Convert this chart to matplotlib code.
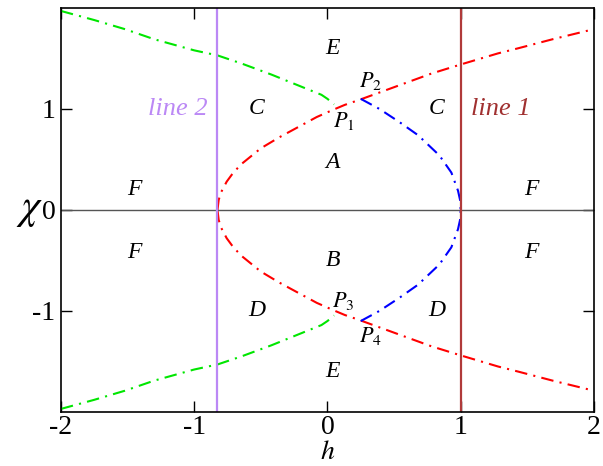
import matplotlib
matplotlib.use("Agg")
import matplotlib.pyplot as plt

# values (upper branches; lower ones are mirror images)
red_h = [-0.825, -0.816, -0.796, -0.756, -0.717, -0.677, -0.64, -0.5, -0.36, -0.22,
         -0.08, 0.04, 0.13, 0.24, 0.51, 0.78, 1.0, 1.28, 1.43, 1.69, 2.0]
red_chi = [0.0, 0.1, 0.18, 0.28, 0.35, 0.41, 0.46, 0.61, 0.72, 0.82,
           0.92, 0.99, 1.04, 1.09, 1.22, 1.35, 1.44, 1.55, 1.60, 1.69, 1.79]

green_h = [-2.0, -1.75, -1.52, -1.3, -1.0, -0.825, -0.645, -0.42, -0.195, -0.045, 0.0, 0.05]
green_chi = [1.97, 1.88, 1.79, 1.69, 1.58, 1.53, 1.45, 1.34, 1.22, 1.14, 1.10, 1.045]

blue_h = [0.25, 0.39, 0.54, 0.68, 0.84, 0.93, 0.98, 0.995, 1.0]
blue_chi = [1.10, 1.0, 0.87, 0.74, 0.54, 0.37, 0.19, 0.1, 0.0]

line1_h = 1.0
line2_h = -0.825

region_labels = ["E", "E", "C", "C", "A", "B", "F", "F", "F", "F", "D", "D"]
region_h = [0.04, 0.04, -0.53, 0.82, 0.04, 0.04, -1.45, -1.45, 1.53, 1.53, -0.53, 0.82]
region_chi = [1.6, -1.6, 1.0, 1.0, 0.47, -0.5, 0.2, -0.42, 0.2, -0.42, -1.0, -1.0]

point_labels = ["$P_{\\mathit{1}}$", "$P_{\\mathit{2}}$", "$P_{\\mathit{3}}$", "$P_{\\mathit{4}}$"]
point_h = [0.12, 0.32, 0.12, 0.32]
point_chi = [0.88, 1.28, -0.9, -1.25]

xticks = [-2, -1, 0, 1, 2]
yticks = [-1, 0, 1]

plt.rcParams["font.family"] = ["Liberation Serif", "DejaVu Serif"]
plt.rcParams["mathtext.fontset"] = "stix"
plt.rcParams["axes.unicode_minus"] = False

fig = plt.figure(figsize=(6.03, 4.66), dpi=100)
ax = fig.add_axes([0.101, 0.116, 0.884, 0.867])

dd = (6, 3, 1, 3)
for sign in (1, -1):
    ax.plot(red_h, [sign * c for c in red_chi], color="red", lw=1.5, dashes=dd)
    ax.plot(green_h, [sign * c for c in green_chi], color="#00e600", lw=1.5, dashes=dd)
    ax.plot(blue_h, [sign * c for c in blue_chi], color="blue", lw=1.5, dashes=dd)

ax.axhline(0, color="#555555", lw=1.0)
ax.axvline(line1_h, color="#b03a3a", lw=1.6)
ax.axvline(line2_h, color="#bb88f5", lw=1.6)

for lab, x, y in zip(region_labels, region_h, region_chi):
    ax.text(x, y, lab, fontsize=17, style="italic", ha="center", va="center")
for lab, x, y in zip(point_labels, point_h, point_chi):
    ax.text(x, y, lab, fontsize=16, ha="center", va="center")

ax.text(-1.12, 1.0, "line 2", fontsize=19, style="italic", color="#bb88f5",
        ha="center", va="center")
ax.text(1.3, 1.0, "line 1", fontsize=19, style="italic", color="#a03030",
        ha="center", va="center")

ax.set_xlim(-2, 2)
ax.set_ylim(-2, 2)
ax.set_xticks(xticks)
ax.set_yticks(yticks)
ax.tick_params(direction="in", length=8, width=1, top=True, right=True,
               labelsize=20, pad=4)
ax.tick_params(axis="x", pad=2)
for sp in ax.spines.values():
    sp.set_linewidth(1.2)

ax.set_xlabel("$h$", fontsize=20, labelpad=0)
ax.set_ylabel("$\\chi$", fontsize=30, rotation=0, labelpad=2, va="center")

fig.savefig("out.png", dpi=100)
